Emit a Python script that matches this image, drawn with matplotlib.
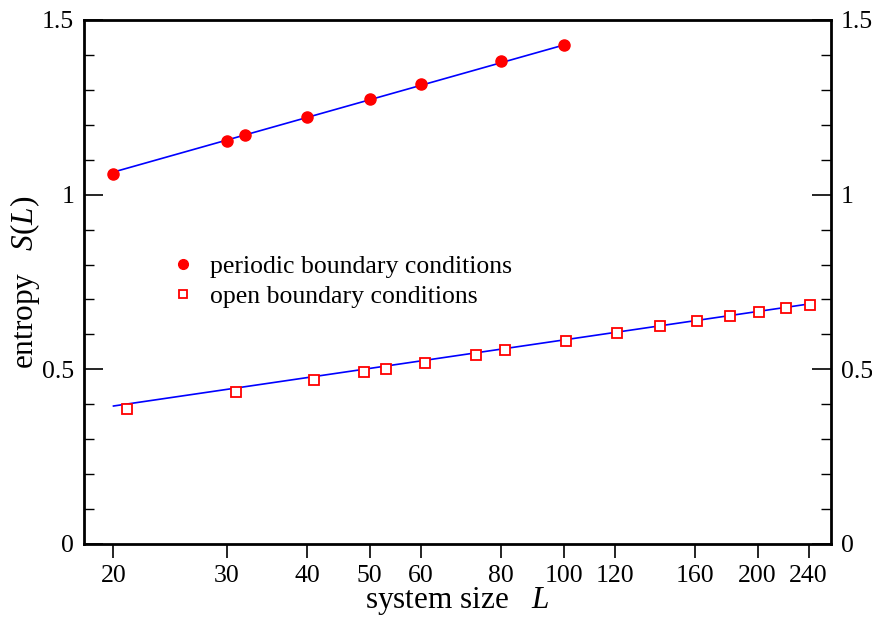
import numpy as np
import matplotlib
matplotlib.use("Agg")
import matplotlib.pyplot as plt
from matplotlib.ticker import FixedLocator, MultipleLocator, FuncFormatter, NullLocator

plt.rcParams['font.family'] = ['Liberation Serif', 'DejaVu Serif']
plt.rcParams['mathtext.fontset'] = 'custom'
plt.rcParams['mathtext.rm'] = 'Liberation Serif'
plt.rcParams['mathtext.it'] = 'Liberation Serif:italic'

# data
L_periodic = [20, 30, 32, 40, 50, 60, 80, 100]
S_periodic = [1.059, 1.154, 1.171, 1.222, 1.274, 1.317, 1.383, 1.429]

L_open = [21, 31, 41, 49, 53, 61, 73, 81, 101, 121, 141, 161, 181, 201, 221, 241]
S_open = [0.386, 0.435, 0.470, 0.492, 0.502, 0.519, 0.542, 0.555,
          0.581, 0.604, 0.623, 0.638, 0.654, 0.665, 0.676, 0.684]

# fit lines S = a*ln(L) + b
fit_periodic = (0.2259, 0.388)
fit_open = (0.1175, 0.043)
fit_periodic_range = [20, 100]
fit_open_range = [20, 240]

x_ticks = [20, 30, 40, 50, 60, 80, 100, 120, 160, 200, 240]

fig = plt.figure(figsize=(8.72, 6.19), dpi=100)
ax = fig.add_axes([84/872, 1-544/619, (831-84)/872, (544-20)/619])

xp = np.array(fit_periodic_range, dtype=float)
xo = np.array(fit_open_range, dtype=float)
ax.plot(xp, fit_periodic[0]*np.log(xp) + fit_periodic[1], color='#0000ff', lw=1.2, zorder=2)
ax.plot(xo, fit_open[0]*np.log(xo) + fit_open[1], color='#0000ff', lw=1.2, zorder=2)

ax.plot(L_periodic, S_periodic, 'o', color='#ff0000', ms=8, mec='#ff0000',
        label='periodic boundary conditions', zorder=3)
ax.plot(L_open, S_open, 's', mfc='white', mec='#ff0000', mew=1.3, ms=6.8,
        label='open boundary conditions', zorder=3)

ax.set_xscale('log')
ax.set_xlim(18, 260)
ax.set_ylim(0, 1.5)
ax.xaxis.set_major_locator(FixedLocator(x_ticks))
ax.xaxis.set_minor_locator(NullLocator())
ax.xaxis.set_major_formatter(FuncFormatter(lambda v, p: '%d' % round(v)))
ax.yaxis.set_major_locator(MultipleLocator(0.5))
ax.yaxis.set_minor_locator(MultipleLocator(0.1))
ax.yaxis.set_major_formatter(FuncFormatter(lambda v, p: '%g' % round(v, 2)))

for s in ax.spines.values():
    s.set_linewidth(2.0)

ax.tick_params(axis='x', which='major', direction='out', length=10, width=1.2,
               labelsize=18.5, pad=5, top=False)
ax.tick_params(axis='y', which='major', direction='in', length=14, width=1.2,
               labelsize=18.5, left=True, right=True, labelleft=True, labelright=True, pad=7)
ax.tick_params(axis='y', which='minor', direction='in', length=7, width=1.0,
               left=True, right=True)

ax.set_xlabel('system size   $L$', fontsize=22.5, labelpad=-1)
ax.set_ylabel('entropy   $S(L)$', fontsize=22.5, labelpad=0)

leg = ax.legend(loc='upper left', bbox_to_anchor=(0.108, 0.572), frameon=False,
                fontsize=18.5, handlelength=0.6, handletextpad=0.75, labelspacing=0.3,
                numpoints=1, borderaxespad=0)
hs = leg.legend_handles
hs[0].set_markersize(7)
hs[1].set_markersize(5.2)

fig.savefig('out.png', dpi=100)
